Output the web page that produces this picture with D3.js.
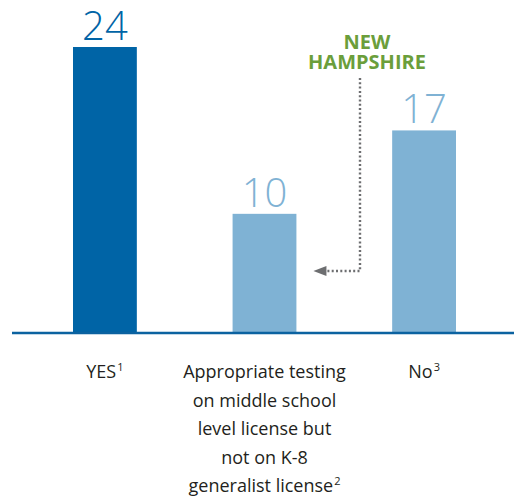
<!DOCTYPE html>
<html><head><meta charset="utf-8">
<script src="https://cdn.jsdelivr.net/npm/d3@7"></script>
<style>html,body{margin:0;padding:0;background:#fff;}</style>
</head><body>
<script>
const categories = ["YES", "Appropriate testing on middle school level license but not on K-8 generalist license", "No"];
const categoryLines = [["YES"], ["Appropriate testing", "on middle school", "level license but", "not on K-8", "generalist license"], ["No"]];
const footnotes = ["1", "2", "3"];
const values = [24, 10, 17];
const highlight = [true, false, false];
const annotationLines = ["NEW", "HAMPSHIRE"];
const annotationTarget = 1;

const W = 514, H = 499;
const svg = d3.select("body").append("svg").attr("width", W).attr("height", H)
  .style("font-family", "'Open Sans', sans-serif");

const x = d3.scaleBand().domain(categories).range([73, 456]).paddingInner(0.6).paddingOuter(0);
const y = d3.scaleLinear().domain([0, 24]).range([333, 47]);

const dark = "#0064a6", light = "#7fb2d4";

svg.selectAll("rect.bar").data(values).join("rect")
  .attr("class", "bar")
  .attr("x", (d, i) => x(categories[i]))
  .attr("width", x.bandwidth())
  .attr("y", d => y(d))
  .attr("height", d => y(0) - y(d))
  .attr("fill", (d, i) => highlight[i] ? dark : light);

svg.selectAll("text.val").data(values).join("text")
  .attr("class", "val")
  .attr("x", (d, i) => x(categories[i]) + x.bandwidth() / 2)
  .attr("y", d => y(d) - 7)
  .attr("text-anchor", "middle")
  .attr("font-size", 40)
  .attr("font-weight", 300)
  .attr("fill", (d, i) => highlight[i] ? dark : light)
  .text(d => d);

// baseline axis
svg.append("line").attr("x1", 12).attr("x2", 514).attr("y1", y(0)).attr("y2", y(0))
  .attr("stroke", "#0b62a0").attr("stroke-width", 2.5);

// category labels
const lab = svg.selectAll("g.lab").data(categories).join("g").attr("class", "lab")
  .attr("transform", (d, i) => `translate(${x(d) + x.bandwidth() / 2},0)`);
lab.each(function(d, i) {
  const g = d3.select(this);
  const lines = categoryLines[i];
  lines.forEach((ln, j) => {
    const t = g.append("text").attr("x", 0).attr("y", 378 + j * 28.5)
      .attr("text-anchor", "middle").attr("font-size", 18).attr("fill", "#231f20");
    t.append("tspan").text(ln);
    if (j === lines.length - 1) {
      t.append("tspan").attr("font-size", 11).attr("dy", -7).attr("dx", 1).text(footnotes[i]);
    }
  });
});

// annotation
const annX = 360, annY = 271;
annotationLines.forEach((ln, j) => {
  svg.append("text").attr("text-anchor", "middle").attr("fill", "#6b9e3b")
    .attr("font-weight", 700).attr("font-size", 20)
    .attr("x", 367).attr("y", 49 + j * 20).text(ln);
});
const tipX = x(categories[annotationTarget]) + x.bandwidth() + 17;
svg.append("path")
  .attr("d", `M${annX},78 L${annX},${annY} L${tipX + 13},${annY}`)
  .attr("fill", "none").attr("stroke", "#6d6e70").attr("stroke-width", 2.4)
  .attr("stroke-dasharray", "2,2.3");
svg.append("path")
  .attr("d", `M${tipX},${annY} L${tipX + 13},${annY - 5} L${tipX + 13},${annY + 5} Z`)
  .attr("fill", "#6d6e70");
</script>
</body></html>
